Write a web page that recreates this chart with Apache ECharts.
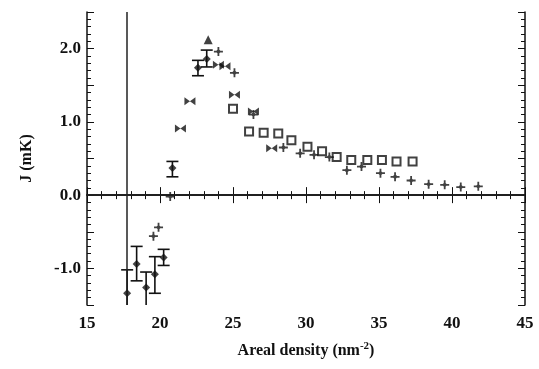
<!DOCTYPE html>
<html><head><meta charset="utf-8">
<script src="https://cdn.jsdelivr.net/npm/echarts@6/dist/echarts.min.js"></script>
<style>html,body{margin:0;padding:0;background:#fff}#c{width:539px;height:369px}</style>
</head><body><div id="c"></div>
<script>
// x tick labels / ranges
const xTicks = [15, 20, 25, 30, 35, 40, 45];
const yTicks = [-1.0, 0.0, 1.0, 2.0];
// open squares
const sqX = [25.0, 26.1, 27.1, 28.1, 29.0, 30.1, 31.1, 32.1, 33.1, 34.2, 35.2, 36.2, 37.3];
const sqY = [1.18, 0.87, 0.85, 0.84, 0.75, 0.66, 0.60, 0.52, 0.48, 0.48, 0.48, 0.46, 0.46];
// plus / small diamonds
const plX = [19.55, 19.9, 20.7, 24.0, 25.1, 26.4, 28.45, 29.6, 30.55, 31.6, 32.8, 33.8, 35.1, 36.1, 37.2, 38.4, 39.5, 40.6, 41.8];
const plY = [-0.56, -0.44, -0.02, 1.96, 1.67, 1.10, 0.65, 0.57, 0.55, 0.52, 0.34, 0.39, 0.30, 0.25, 0.20, 0.15, 0.14, 0.11, 0.12];
// bowtie markers
const bwX = [21.4, 22.05, 24.0, 24.45, 25.1, 26.4, 27.65];
const bwY = [0.91, 1.28, 1.78, 1.76, 1.37, 1.14, 0.64];
// points with error bars
const erX = [17.75, 18.4, 19.05, 19.65, 20.25, 20.85, 22.6, 23.2];
const erY = [-1.34, -0.94, -1.26, -1.08, -0.85, 0.37, 1.74, 1.86];
const erLo = [-1.6, -1.17, -1.6, -1.34, -0.96, 0.25, 1.63, 1.75];
const erHi = [-1.02, -0.70, -1.05, -0.84, -0.74, 0.46, 1.84, 1.98];
// triangle
const trX = [23.3];
const trY = [2.12];
// reference lines
const vLineX = 17.75;
const hLineY = 0;

const zip = (a, b) => a.map((v, i) => [v, b[i]]);
const font = 'Liberation Serif';
const chart = echarts.init(document.getElementById('c'));
const axisCommon = {
  axisLine: { show: true, lineStyle: { color: '#111', width: 1.5 } },
  splitLine: { show: false }
};
const plusPath = 'path://M4,0H6V4H10V6H6V10H4V6H0V4H4Z M5,2L8,5L5,8L2,5Z';
const bowPath = 'path://M0,0L10,9L10,0L0,9Z';
chart.setOption({
  animation: false,
  backgroundColor: '#fff',
  grid: { left: 87, right: 14, top: 12, bottom: 64 },
  xAxis: [{
    type: 'value', min: 15, max: 45, interval: 5, ...axisCommon,
    axisTick: { inside: true, length: 8, lineStyle: { color: '#111' } },
    minorTick: { show: true, splitNumber: 5, length: 4, lineStyle: { color: '#111' } },
    axisLabel: { fontFamily: font, fontSize: 17, fontWeight: 'bold', color: '#111', margin: 10,
      formatter: v => xTicks.includes(v) ? String(v) : '' },
    name: 'Areal density (nm{s|-2})', nameLocation: 'middle', nameGap: 36,
    nameTextStyle: { fontFamily: font, fontSize: 16, color: '#111', fontWeight: 'bold',
      rich: { s: { fontFamily: font, fontSize: 11, color: '#111', fontWeight: 'bold', verticalAlign: 'top', padding: [0, 0, 8, 0] } } }
  }, {
    type: 'value', min: 15, max: 45, interval: 5, position: 'top', ...axisCommon,
    axisTick: { inside: true, length: 8, lineStyle: { color: '#111' } },
    minorTick: { show: true, splitNumber: 5, length: 4, lineStyle: { color: '#111' } },
    axisLabel: { show: false }
  }],
  yAxis: [{
    type: 'value', min: -1.5, max: 2.5, interval: 0.5, ...axisCommon,
    axisTick: { inside: true, length: 7, lineStyle: { color: '#111' } },
    minorTick: { show: true, splitNumber: 5, length: 4, lineStyle: { color: '#111' } },
    axisLabel: { fontFamily: font, fontSize: 17, fontWeight: 'bold', color: '#111', margin: 6,
      formatter: v => yTicks.some(t => Math.abs(t - v) < 1e-9) ? v.toFixed(1) : '' },
    name: 'J (mK)', nameLocation: 'middle', nameGap: 52, nameRotate: 90,
    nameTextStyle: { fontFamily: font, fontSize: 16, color: '#111', fontWeight: 'bold' }
  }, {
    type: 'value', min: -1.5, max: 2.5, interval: 0.5, position: 'right', ...axisCommon,
    axisTick: { inside: true, length: 7, lineStyle: { color: '#111' } },
    minorTick: { show: true, splitNumber: 5, length: 4, lineStyle: { color: '#111' } },
    axisLabel: { show: false }
  }],
  series: [
    {
      type: 'line', data: [], silent: true,
      markLine: { symbol: 'none', silent: true, label: { show: false },
        lineStyle: { color: '#222', width: 1.5, type: 'solid' },
        data: [{ xAxis: vLineX }, { yAxis: hLineY }] }
    },
    {
      type: 'custom', clip: true, silent: true,
      data: erX.map((x, i) => [x, erLo[i], erHi[i]]),
      renderItem: (params, api) => {
        const lo = api.coord([api.value(0), api.value(1)]);
        const hi = api.coord([api.value(0), api.value(2)]);
        const w = 6;
        const st = { stroke: '#111', lineWidth: 1.6 };
        return { type: 'group', children: [
          { type: 'line', shape: { x1: lo[0], y1: lo[1], x2: hi[0], y2: hi[1] }, style: st },
          { type: 'line', shape: { x1: lo[0] - w, y1: lo[1], x2: lo[0] + w, y2: lo[1] }, style: st },
          { type: 'line', shape: { x1: hi[0] - w, y1: hi[1], x2: hi[0] + w, y2: hi[1] }, style: st }
        ] };
      }
    },
    { type: 'scatter', data: zip(erX, erY), symbol: 'diamond', symbolSize: 8,
      itemStyle: { color: '#111' } },
    { type: 'scatter', data: zip(sqX, sqY), symbol: 'rect', symbolSize: 8,
      itemStyle: { color: '#fff', borderColor: '#111', borderWidth: 2 } },
    { type: 'scatter', data: zip(plX, plY), symbol: plusPath, symbolSize: 9,
      itemStyle: { color: '#111' } },
    { type: 'scatter', data: zip(bwX, bwY), symbol: bowPath, symbolSize: [11, 8],
      itemStyle: { color: '#111' } },
    { type: 'scatter', data: zip(trX, trY), symbol: 'triangle', symbolSize: 9,
      itemStyle: { color: '#111' } }
  ]
});
</script></body></html>
